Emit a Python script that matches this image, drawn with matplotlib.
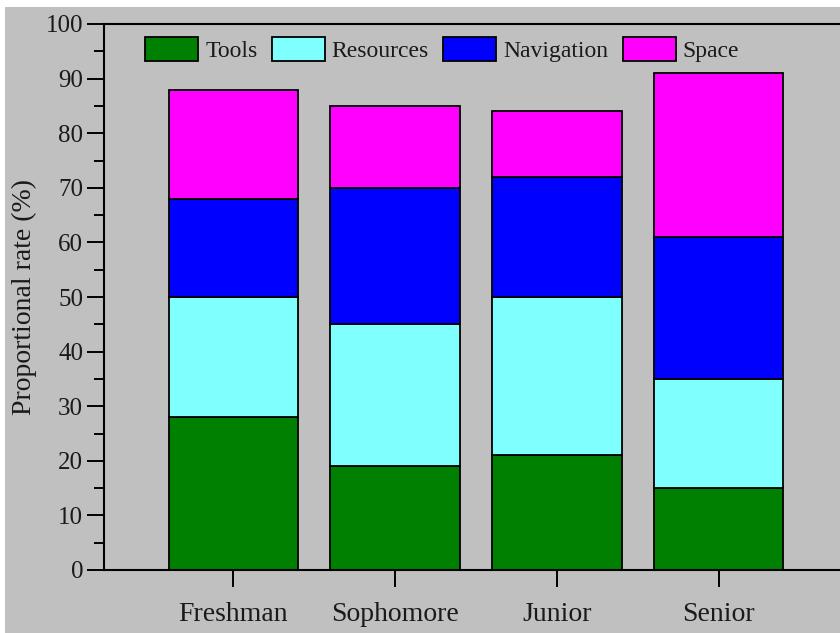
import numpy as np
import matplotlib
matplotlib.use("Agg")
import matplotlib.pyplot as plt
from matplotlib.patches import Rectangle
from matplotlib.ticker import MultipleLocator

# data
categories = ["Freshman", "Sophomore", "Junior", "Senior"]
series_names = ["Tools", "Resources", "Navigation", "Space"]
tools = [28, 19, 21, 15]
resources = [22, 26, 29, 20]
navigation = [18, 25, 22, 26]
space = [20, 15, 12, 30]
colors = ["#008000", "#80ffff", "#0000ff", "#ff00ff"]

plt.rcParams['font.family'] = ['Liberation Serif', 'DejaVu Serif']
text_color = "#1a1a1a"

fig = plt.figure(figsize=(8.4, 6.33), dpi=100, facecolor="#c0c0c0")
# white strips left over from the screenshot crop
fig.patches.append(Rectangle((0, 1 - 7 / 633), 1, 7 / 633, transform=fig.transFigure,
                             facecolor="white", edgecolor="none", zorder=-1))
fig.patches.append(Rectangle((0, 0), 5 / 840, 1, transform=fig.transFigure,
                             facecolor="white", edgecolor="none", zorder=-1))

ax = fig.add_axes([104 / 840, 63 / 633, 744 / 840, 546 / 633])
ax.set_facecolor("#c0c0c0")

x = np.arange(1, len(categories) + 1)
bottom = np.zeros(len(categories))
for name, vals, col in zip(series_names, [tools, resources, navigation, space], colors):
    ax.bar(x, vals, width=0.8, bottom=bottom, color=col, edgecolor="black",
           linewidth=1.3, label=name)
    bottom += np.array(vals)

ax.set_xlim(0.2, 4.8)
ax.set_ylim(0, 100)
ax.set_xticks(x)
ax.set_xticklabels(categories, fontsize=20, color=text_color)
ax.yaxis.set_major_locator(MultipleLocator(10))
ax.yaxis.set_minor_locator(MultipleLocator(5))
ax.tick_params(axis='y', which='major', length=12, width=1.4, labelsize=18,
               labelcolor=text_color, pad=3)
ax.tick_params(axis='y', which='minor', length=7, width=1.4)
ax.tick_params(axis='x', which='major', length=12, width=1.4, pad=11)
ax.set_ylabel("Proportional rate (%)", fontsize=20, color=text_color, labelpad=6)

for sp in ax.spines.values():
    sp.set_linewidth(1.5)

ax.legend(loc="upper left", bbox_to_anchor=(0.055, 0.976), ncol=4, frameon=False,
          fontsize=17, handlelength=2.25, handleheight=1.15, handletextpad=0.3,
          columnspacing=0.6, borderpad=0, borderaxespad=0, labelcolor=text_color)

fig.savefig("out.png", dpi=100, facecolor=fig.get_facecolor())
